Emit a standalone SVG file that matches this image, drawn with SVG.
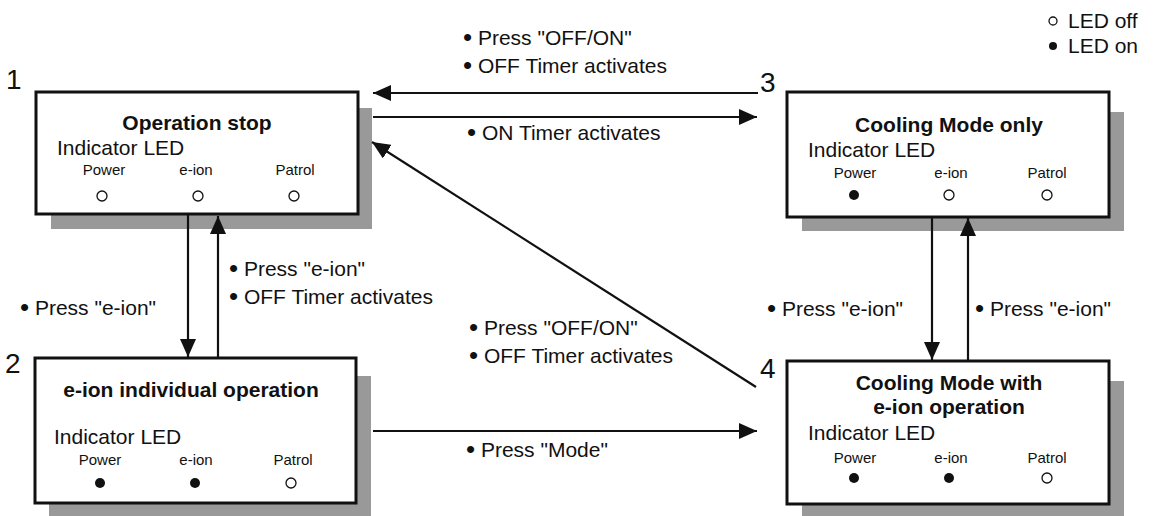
<svg xmlns="http://www.w3.org/2000/svg" width="1153" height="516" viewBox="0 0 1153 516">
<style>
text{font-family:"Liberation Sans",Arial,sans-serif;fill:#111}
.num{font-size:28px}
.title{font-size:21px;font-weight:bold;text-anchor:middle}
.ind{font-size:21px}
.led{font-size:15px;text-anchor:middle}
.lbl{font-size:21px}
.b{font-size:26px}
.box{fill:#fff;stroke:#111;stroke-width:3}
.shadow{fill:#999}
.off{fill:#fff;stroke:#111;stroke-width:1.3}
.on{fill:#111}
.conn{stroke:#111;stroke-width:2.2;fill:none;marker-end:url(#ah)}
</style>
<defs>
<marker id="ah" viewBox="0 0 18 16" refX="18" refY="8" markerWidth="18" markerHeight="16" markerUnits="userSpaceOnUse" orient="auto">
<path d="M0,0 L18,8 L0,16 z" fill="#111"/>
</marker>
</defs>
<rect width="1153" height="516" fill="#fff"/>

<g id="legend">
<circle class="off" cx="1053" cy="21" r="4"/>
<text class="lbl" x="1068" y="28">LED off</text>
<circle class="on" cx="1053" cy="46" r="4"/>
<text class="lbl" x="1068" y="53">LED on</text>
</g>

<g id="node1">
<rect class="shadow" x="51" y="108" width="321" height="121"/>
<rect class="box" x="36" y="92" width="322" height="122"/>
<text class="num" x="6" y="89">1</text>
<text class="title" x="197" y="130">Operation stop</text>
<text class="ind" x="57" y="155">Indicator LED</text>
<text class="led" x="104" y="175">Power</text>
<text class="led" x="196" y="175">e-ion</text>
<text class="led" x="295" y="175">Patrol</text>
<circle class="off" cx="102" cy="196" r="5"/>
<circle class="off" cx="198" cy="196" r="5"/>
<circle class="off" cx="294" cy="196" r="5"/>
</g>

<g id="node2">
<rect class="shadow" x="49" y="376" width="322" height="142"/>
<rect class="box" x="35" y="358" width="321" height="145"/>
<text class="num" x="5" y="373">2</text>
<text class="title" x="191" y="397">e-ion individual operation</text>
<text class="ind" x="54" y="444">Indicator LED</text>
<text class="led" x="100" y="465">Power</text>
<text class="led" x="196" y="465">e-ion</text>
<text class="led" x="293" y="465">Patrol</text>
<circle class="on" cx="100" cy="483" r="5"/>
<circle class="on" cx="195" cy="483" r="5"/>
<circle class="off" cx="291" cy="483" r="5"/>
</g>

<g id="node3">
<rect class="shadow" x="802" y="112" width="322" height="119"/>
<rect class="box" x="787" y="92" width="322" height="125"/>
<text class="num" x="760" y="92">3</text>
<text class="title" x="949" y="132">Cooling Mode only</text>
<text class="ind" x="808" y="157">Indicator LED</text>
<text class="led" x="855" y="178">Power</text>
<text class="led" x="951" y="178">e-ion</text>
<text class="led" x="1047" y="178">Patrol</text>
<circle class="on" cx="854" cy="195" r="5"/>
<circle class="off" cx="949" cy="195" r="5"/>
<circle class="off" cx="1047" cy="195" r="5"/>
</g>

<g id="node4">
<rect class="shadow" x="802" y="381" width="322" height="138"/>
<rect class="box" x="787" y="361" width="322" height="143"/>
<text class="num" x="760" y="378">4</text>
<text class="title" x="949" y="390">Cooling Mode with</text>
<text class="title" x="949" y="414">e-ion operation</text>
<text class="ind" x="808" y="440">Indicator LED</text>
<text class="led" x="855" y="463">Power</text>
<text class="led" x="951" y="463">e-ion</text>
<text class="led" x="1047" y="463">Patrol</text>
<circle class="on" cx="854" cy="478" r="5"/>
<circle class="on" cx="949" cy="478" r="5"/>
<circle class="off" cx="1047" cy="478" r="5"/>
</g>

<g id="connectors">
<line class="conn" x1="758" y1="93" x2="373" y2="93"/>
<line class="conn" x1="373" y1="117" x2="757" y2="117"/>
<line class="conn" x1="373" y1="431" x2="757" y2="431"/>
<line class="conn" x1="756" y1="387" x2="372" y2="142"/>
<line class="conn" x1="188" y1="215" x2="188" y2="357"/>
<line class="conn" x1="218" y1="357" x2="218" y2="216"/>
<line class="conn" x1="932" y1="218" x2="932" y2="360"/>
<line class="conn" x1="968" y1="360" x2="968" y2="218"/>
</g>

<g id="labels">
<text class="lbl" x="463" y="45"><tspan class="b" dy="1">•</tspan><tspan dy="-1"> Press "OFF/ON"</tspan></text>
<text class="lbl" x="463" y="73"><tspan class="b" dy="1">•</tspan><tspan dy="-1"> OFF Timer activates</tspan></text>
<text class="lbl" x="467" y="140"><tspan class="b" dy="1">•</tspan><tspan dy="-1"> ON Timer activates</tspan></text>
<text class="lbl" x="20" y="315"><tspan class="b" dy="1">•</tspan><tspan dy="-1"> Press "e-ion"</tspan></text>
<text class="lbl" x="229" y="276"><tspan class="b" dy="1">•</tspan><tspan dy="-1"> Press "e-ion"</tspan></text>
<text class="lbl" x="229" y="304"><tspan class="b" dy="1">•</tspan><tspan dy="-1"> OFF Timer activates</tspan></text>
<text class="lbl" x="469" y="335"><tspan class="b" dy="1">•</tspan><tspan dy="-1"> Press "OFF/ON"</tspan></text>
<text class="lbl" x="469" y="363"><tspan class="b" dy="1">•</tspan><tspan dy="-1"> OFF Timer activates</tspan></text>
<text class="lbl" x="466" y="457"><tspan class="b" dy="1">•</tspan><tspan dy="-1"> Press "Mode"</tspan></text>
<text class="lbl" x="767" y="316"><tspan class="b" dy="1">•</tspan><tspan dy="-1"> Press "e-ion"</tspan></text>
<text class="lbl" x="975" y="316"><tspan class="b" dy="1">•</tspan><tspan dy="-1"> Press "e-ion"</tspan></text>
</g>
</svg>
